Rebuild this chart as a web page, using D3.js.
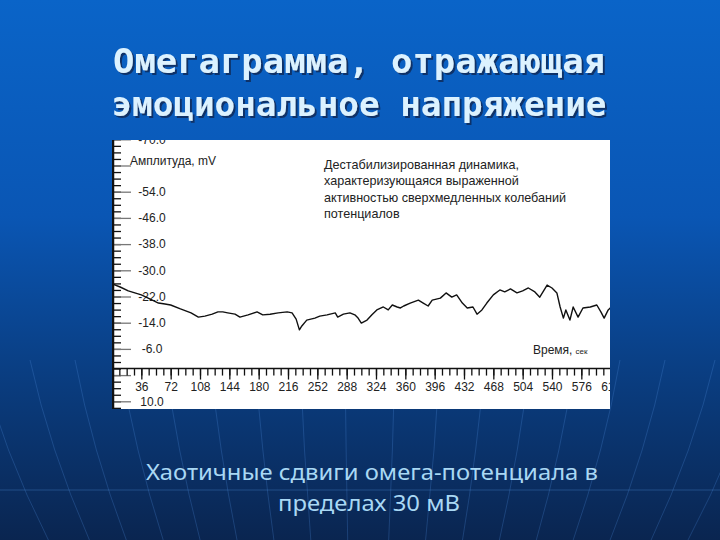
<!DOCTYPE html>
<html><head><meta charset="utf-8">
<script src="https://cdn.jsdelivr.net/npm/d3@7"></script>
<style>html,body{margin:0;padding:0;background:#0a3f88;}svg{display:block;}</style>
</head><body>
<script>
// ---- data ----
const titleLines = ["Омегаграмма, отражающая", "эмоциональное напряжение"];
const captionLines = ["Хаотичные сдвиги омега-потенциала в", "пределах 30 мВ"];
const noteLines = ["Дестабилизированная динамика,", "характеризующаяся выраженной", "активностью сверхмедленных колебаний", "потенциалов"];
const yAxisTitle = "Амплитуда, mV";
const xAxisTitle = "Время,";
const xAxisUnit = "сек";
const xTickLabels = [36,72,108,144,180,216,252,288,324,360,396,432,468,504,540,576,612];
const yTickLabels = [-70,-54,-46,-38,-30,-22,-14,-6,10];
const timeSec = [1,10,20,28,36,47,57,65,72,84,97,106,114,123,130,136,142,151,157,167,178,185,194,204,215,221,226,230,233,239,249,255,264,274,277,284,292,298,302,306,313,319,325,333,339,344,350,354,358,366,376,382,388,393,403,410,417,423,430,436,443,448,454,460,468,476,482,489,497,504,511,519,525,534,540,546,550,554,557,562,566,572,578,587,595,600,604,609,613];
const amplitude = [-25.8,-24.9,-23.7,-23.1,-22.5,-21.2,-20.0,-19.7,-19.4,-18.2,-17.0,-15.7,-16.0,-16.6,-17.3,-17.3,-17.0,-16.6,-15.7,-16.4,-17.3,-16.4,-16.6,-17.0,-17.3,-17.0,-15.1,-11.8,-13.0,-14.8,-15.4,-16.0,-16.4,-17.0,-15.7,-16.6,-17.0,-16.4,-15.4,-13.9,-14.8,-16.4,-17.9,-18.8,-17.9,-19.4,-18.8,-18.5,-19.1,-20.0,-20.9,-20.0,-19.1,-20.9,-21.5,-23.1,-21.8,-22.5,-20.0,-18.5,-18.8,-16.6,-17.9,-20.0,-22.5,-24.0,-23.4,-24.3,-23.1,-23.7,-24.6,-23.4,-21.8,-25.5,-24.6,-23.1,-18.8,-15.4,-17.9,-14.8,-18.8,-15.7,-18.5,-18.8,-19.4,-17.3,-15.4,-17.9,-18.8];

const W = 720, H = 540;
const svg = d3.select("body").append("svg").attr("width", W).attr("height", H);
const defs = svg.append("defs");

// background gradient
const bg = defs.append("linearGradient").attr("id","bg").attr("x1",0).attr("y1",0).attr("x2",0).attr("y2",1);
bg.append("stop").attr("offset","0%").attr("stop-color","#0a64c8");
bg.append("stop").attr("offset","40%").attr("stop-color","#0a56b4");
bg.append("stop").attr("offset","70%").attr("stop-color","#0a3d80");
bg.append("stop").attr("offset","100%").attr("stop-color","#0a2550");
svg.append("rect").attr("width",W).attr("height",H).attr("fill","url(#bg)");

// title shadow filter
const f = defs.append("filter").attr("id","shadow").attr("x","-5%").attr("y","-20%").attr("width","110%").attr("height","150%");
f.append("feDropShadow").attr("dx",2).attr("dy",2).attr("stdDeviation",0.6)
  .attr("flood-color","#0a2a5a").attr("flood-opacity",0.85);

// faint globe meridians
const deco = svg.append("g").attr("fill","none").attr("stroke","#4b8ad6").attr("stroke-opacity",0.28).attr("stroke-width",1);
[-20,30,75,120,165,210,255,300,345,395,440,485,530,575,620,665,715,760].forEach(xt => {
  const xb = 360 + (xt-360)*0.82;
  const xm = 360 + (xt-360)*0.94;
  deco.append("path").attr("d", `M${xt},360 Q${xm},450 ${xb},540`);
});
deco.append("line").attr("x1",0).attr("x2",W).attr("y1",490).attr("y2",490).attr("stroke-opacity",0.35);

// title
titleLines.forEach((t,i) => {
  svg.append("text").attr("x",359).attr("y",[73,116][i]).attr("text-anchor","middle")
    .attr("font-family","DejaVu Sans Mono").attr("font-weight","bold").attr("font-size",33)
    .attr("textLength",[492,495][i]).attr("lengthAdjust","spacingAndGlyphs")
    .attr("fill","#dcf2ff").attr("filter","url(#shadow)").text(t);
});

// caption
captionLines.forEach((t,i) => {
  svg.append("text").attr("x",[372,369][i]).attr("y",[480,511][i]).attr("text-anchor","middle")
    .attr("font-family","Noto Sans").attr("font-size",21)
    .attr("textLength",[452,182][i]).attr("lengthAdjust","spacingAndGlyphs")
    .attr("fill","#a9d8f4").text(t);
});

// chart panel
const px0 = 112, px1 = 610, py0 = 140, py1 = 409;
defs.append("clipPath").attr("id","panel").append("rect")
  .attr("x",px0).attr("y",py0).attr("width",px1-px0).attr("height",py1-py0);
svg.append("rect").attr("x",px0).attr("y",py0).attr("width",px1-px0).attr("height",py1-py0).attr("fill","#ffffff");
const g = svg.append("g").attr("clip-path","url(#panel)");

const x = d3.scaleLinear().domain([0,612]).range([112, 112+612*0.8148]);
const y = d3.scaleLinear().domain([-54,-6]).range([191.7, 348.9]);

const font = "Liberation Sans, Arial, sans-serif";

// y axis: minor, major, labels
const yMinor = d3.range(-72, 14, 2);
const yMajor = d3.range(-70, 14, 8);
g.append("g").attr("transform",`translate(${px0},0)`)
  .call(d3.axisRight(y).tickValues(yMinor).tickSize(9).tickFormat(""))
  .call(a => a.select(".domain").remove())
  .call(a => a.selectAll("line").attr("stroke","#111").attr("stroke-width",1.3));
g.append("g").attr("transform",`translate(${px0},0)`)
  .call(d3.axisRight(y).tickValues(yMajor).tickSize(19).tickFormat(""))
  .call(a => a.select(".domain").remove())
  .call(a => a.selectAll("line").attr("stroke","#777").attr("stroke-width",1.3));
g.append("g").selectAll("text").data(yTickLabels).join("text")
  .attr("x",152).attr("y",d => y(d)).attr("dy","0.36em").attr("text-anchor","middle")
  .attr("font-family",font).attr("font-size",12).attr("fill","#222")
  .text(d => d.toFixed(1));
g.append("line").attr("x1",px0+1).attr("x2",px0+1).attr("y1",py0).attr("y2",py1)
  .attr("stroke","#111").attr("stroke-width",2.5);

// x axis
const xMinor = d3.range(0, 622, 9);
g.append("g").attr("transform",`translate(0,${y(0)})`)
  .call(d3.axisBottom(x).tickValues(xMinor).tickSize(7).tickFormat(""))
  .call(a => a.select(".domain").remove())
  .call(a => a.selectAll("line").attr("stroke","#111").attr("stroke-width",1.3));
g.append("g").attr("transform",`translate(0,${y(0)})`)
  .call(d3.axisBottom(x).tickValues(xTickLabels).tickSize(11).tickPadding(3).tickFormat(d => d))
  .call(a => a.select(".domain").remove())
  .call(a => a.selectAll("line").attr("stroke","#111").attr("stroke-width",1.3))
  .call(a => a.selectAll("text").attr("font-family",font).attr("font-size",12).attr("fill","#222"));
g.append("line").attr("x1",px0).attr("x2",px1).attr("y1",y(0)).attr("y2",y(0))
  .attr("stroke","#111").attr("stroke-width",1.6);

// axis titles & note
g.append("text").attr("x",130).attr("y",165).attr("font-family",font).attr("font-size",12)
  .attr("fill","#222").text(yAxisTitle);
const xt = g.append("text").attr("x",533).attr("y",354).attr("font-family",font).attr("font-size",12).attr("fill","#222");
xt.append("tspan").text(xAxisTitle);
xt.append("tspan").attr("dx",3).attr("font-size",8).text(xAxisUnit);
noteLines.forEach((t,i) => {
  g.append("text").attr("x",324).attr("y",169+i*16.3).attr("font-family",font).attr("font-size",12.6)
    .attr("fill","#222").text(t);
});

// data line
const line = d3.line().x((d,i) => x(timeSec[i])).y(d => y(d));
g.append("path").datum(amplitude).attr("d",line).attr("fill","none")
  .attr("stroke","#111").attr("stroke-width",1.4).attr("stroke-linejoin","round");
</script>
</body></html>
